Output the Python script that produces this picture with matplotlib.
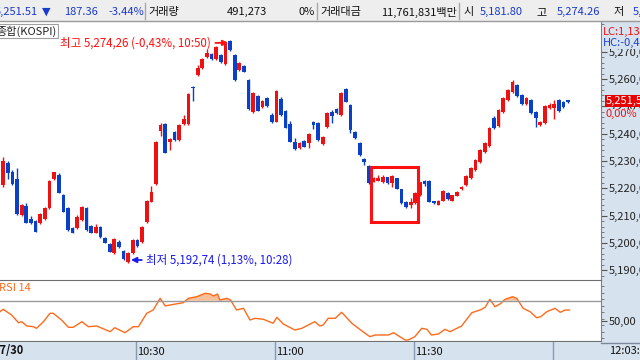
import numpy as np
import matplotlib
matplotlib.use("Agg")
from matplotlib import pyplot as plt
from matplotlib.patches import Rectangle
from matplotlib.lines import Line2D
from matplotlib.ticker import MultipleLocator, FuncFormatter

plt.rcParams['font.family'] = ['Noto Sans CJK KR', 'DejaVu Sans']

# 1분봉, 10:01 ~ 12:03 (10:00 기준 분)
minutes = np.arange(1, 124)
opens = [5221.2, 5229.4, 5226.1, 5223.3, 5210.2, 5213.6, 5208.7, 5208.0, 5207.4, 5208.7,
         5212.9, 5223.3, 5224.9, 5217.5, 5212.7, 5205.4, 5205.4, 5208.4, 5212.7, 5206.2,
         5203.7, 5205.7, 5201.7, 5199.6, 5196.2, 5200.4, 5197.0, 5193.1, 5196.2, 5201.1,
         5200.5, 5207.6, 5215.1, 5221.6, 5241.0, 5243.4, 5236.8, 5240.7, 5237.7, 5243.6,
         5243.4, 5257.2, 5261.5, 5263.9, 5268.0, 5269.2, 5267.2, 5268.8, 5265.5, 5273.9,
         5268.8, 5263.3, 5264.8, 5259.7, 5247.9, 5253.8, 5249.9, 5253.0, 5246.8, 5244.4,
         5252.6, 5248.3, 5243.4, 5236.8, 5234.6, 5237.4, 5236.5, 5244.4, 5243.8, 5236.2,
         5242.3, 5248.1, 5248.9, 5246.8, 5256.3, 5250.5, 5240.7, 5236.7, 5230.6, 5228.2,
         5222.4, 5222.8, 5222.2, 5224.0, 5221.8, 5223.7, 5219.6, 5215.1, 5213.9, 5214.5,
         5217.6, 5222.8, 5222.8, 5215.3, 5213.9, 5215.5, 5218.4, 5215.4, 5217.2, 5219.6,
         5221.2, 5223.8, 5226.7, 5229.6, 5233.3, 5235.5, 5245.8, 5242.8, 5247.9, 5252.3,
         5255.3, 5257.8, 5254.2, 5250.9, 5252.3, 5247.9, 5243.2, 5243.9, 5249.4, 5249.4,
         5252.3, 5251.6, 5252.2]
highs = [5231.5, 5230.0, 5226.7, 5227.5, 5214.3, 5214.6, 5209.9, 5208.4, 5211.0, 5213.1,
         5223.2, 5226.1, 5225.6, 5217.9, 5213.1, 5205.8, 5210.2, 5213.5, 5213.1, 5206.6,
         5206.9, 5206.2, 5202.2, 5199.9, 5201.8, 5201.1, 5197.4, 5196.7, 5201.4, 5201.4,
         5206.2, 5215.7, 5220.8, 5237.3, 5244.0, 5243.9, 5238.4, 5241.0, 5243.6, 5246.8,
         5254.9, 5257.5, 5265.2, 5267.7, 5271.0, 5269.6, 5272.1, 5269.2, 5273.9, 5274.26,
         5269.2, 5266.3, 5265.2, 5260.0, 5255.3, 5254.2, 5252.3, 5253.4, 5247.6, 5256.0,
         5253.4, 5248.7, 5244.6, 5238.4, 5237.0, 5237.7, 5240.3, 5244.6, 5244.3, 5239.2,
         5248.0, 5248.7, 5249.4, 5255.3, 5256.7, 5250.9, 5241.0, 5237.0, 5231.2, 5228.5,
         5224.3, 5224.9, 5224.9, 5224.1, 5224.7, 5223.8, 5219.7, 5215.3, 5216.3, 5218.6,
         5222.4, 5223.0, 5223.0, 5215.5, 5215.7, 5219.2, 5218.6, 5217.7, 5219.0, 5220.8,
         5224.9, 5227.8, 5230.8, 5234.5, 5237.0, 5242.5, 5246.5, 5249.1, 5253.5, 5256.4,
         5259.7, 5258.2, 5254.6, 5253.5, 5252.7, 5248.3, 5244.8, 5250.5, 5251.2, 5252.3,
         5252.7, 5252.0, 5252.5]
lows = [5220.5, 5223.4, 5221.2, 5210.2, 5209.9, 5207.3, 5207.1, 5204.0, 5207.1, 5208.4,
        5212.4, 5223.0, 5218.3, 5211.3, 5204.4, 5203.6, 5205.1, 5208.0, 5204.4, 5203.6,
        5203.6, 5201.8, 5200.0, 5196.7, 5195.9, 5198.1, 5193.9, 5192.74, 5195.9, 5198.5,
        5200.0, 5207.3, 5215.0, 5221.2, 5239.2, 5232.9, 5234.0, 5237.3, 5237.3, 5243.2,
        5243.2, 5252.1, 5261.1, 5263.7, 5267.7, 5267.0, 5267.0, 5265.9, 5265.2, 5270.3,
        5259.3, 5263.0, 5262.6, 5248.7, 5247.6, 5248.3, 5249.4, 5249.8, 5243.9, 5244.1,
        5246.5, 5242.1, 5237.0, 5234.0, 5234.4, 5235.1, 5234.9, 5241.7, 5237.3, 5236.0,
        5242.1, 5244.0, 5247.2, 5246.5, 5251.6, 5240.2, 5238.1, 5232.0, 5228.5, 5221.6,
        5222.3, 5222.7, 5222.0, 5221.6, 5220.6, 5219.6, 5214.2, 5212.8, 5212.7, 5214.2,
        5217.2, 5220.8, 5215.0, 5214.2, 5213.7, 5215.4, 5215.7, 5215.2, 5217.0, 5219.5,
        5220.8, 5223.4, 5226.3, 5229.2, 5232.9, 5235.1, 5241.8, 5242.4, 5247.5, 5251.9,
        5254.9, 5253.4, 5250.5, 5250.5, 5247.2, 5242.5, 5242.9, 5243.5, 5249.0, 5245.4,
        5248.0, 5249.4, 5251.3]
closes = [5230.1, 5225.5, 5221.5, 5210.6, 5213.8, 5207.4, 5207.4, 5204.1, 5210.6, 5212.7,
          5222.8, 5225.9, 5218.4, 5211.4, 5204.7, 5203.7, 5209.6, 5213.0, 5204.7, 5203.7,
          5205.9, 5202.0, 5200.1, 5196.8, 5201.4, 5198.4, 5194.1, 5196.2, 5201.1, 5198.9,
          5205.7, 5215.5, 5218.8, 5237.1, 5243.2, 5233.0, 5238.1, 5237.7, 5243.2, 5245.3,
          5254.6, 5256.7, 5264.2, 5267.2, 5269.4, 5267.2, 5271.6, 5266.2, 5273.7, 5270.7,
          5259.7, 5265.8, 5262.7, 5249.0, 5255.0, 5248.4, 5252.0, 5250.2, 5244.1, 5255.6,
          5246.8, 5242.2, 5237.1, 5234.4, 5236.7, 5235.2, 5239.9, 5243.2, 5237.7, 5238.9,
          5247.7, 5246.5, 5247.5, 5255.0, 5251.7, 5241.4, 5238.3, 5232.2, 5229.7, 5221.8,
          5223.7, 5223.9, 5224.3, 5221.8, 5224.5, 5219.7, 5214.5, 5213.0, 5215.1, 5218.4,
          5222.2, 5221.6, 5215.1, 5214.5, 5215.5, 5219.0, 5216.0, 5217.5, 5218.8, 5220.6,
          5224.5, 5227.4, 5230.4, 5234.1, 5236.6, 5242.1, 5242.1, 5248.7, 5253.1, 5256.0,
          5258.9, 5253.8, 5250.9, 5253.1, 5247.6, 5245.7, 5244.4, 5250.1, 5250.5, 5250.9,
          5248.4, 5249.8, 5251.51]

# RSI 14
rsi_t = [0.3, 1.0, 2.8, 4.3, 5.0, 6.1, 7.5, 8.2, 9.7, 11.1, 11.8, 13.6, 15.1, 16.1, 18.0,
         19.4, 21.2, 24.1, 25.1, 27.3, 29.1, 30.2, 32.0, 33.4, 34.9, 36.0, 37.0, 39.9, 41.0,
         42.8, 44.6, 45.7, 46.4, 47.3, 47.8, 49.3, 50.1, 51.4, 52.9, 54.3, 55.4, 57.2, 59.3,
         60.1, 61.5, 64.0, 65.5, 68.3, 69.4, 70.1, 71.2, 72.7, 74.1, 76.3, 78.4, 80.2, 81.3,
         84.2, 85.3, 87.8, 88.5, 89.9, 91.4, 92.5, 93.5, 95.0, 96.4, 97.5, 100.0, 102.2,
         104.0, 105.1, 106.1, 107.2, 108.3, 109.4, 111.0, 111.9, 113.3, 114.8, 116.2, 117.1,
         118.4, 120.2, 121.3, 122.4, 123.3]
rsi_v = [59.0, 61.4, 55.7, 48.0, 49.0, 44.7, 44.0, 42.4, 49.0, 57.4, 57.4, 50.7, 43.4, 43.4,
         49.0, 44.0, 44.7, 39.0, 43.0, 38.0, 44.0, 44.0, 57.4, 60.7, 72.4, 64.7, 65.7, 68.0,
         72.4, 74.0, 77.4, 76.7, 74.7, 76.7, 70.7, 72.4, 70.7, 60.7, 62.4, 50.7, 52.4, 51.4,
         47.4, 53.4, 46.7, 40.7, 42.4, 49.0, 44.7, 45.7, 52.4, 52.4, 58.4, 47.4, 40.0, 34.0,
         35.7, 35.7, 38.0, 30.7, 30.7, 34.0, 42.4, 41.4, 35.7, 36.7, 41.4, 39.0, 44.7, 58.0,
         60.7, 63.4, 71.4, 64.0, 66.7, 71.4, 74.0, 72.4, 62.4, 59.0, 53.0, 54.0, 59.0, 62.4,
         58.4, 60.7, 60.7]

time_marks = [30, 60, 90, 120]
time_labels = ['10:30', '11:00', '11:30', '']

RED = '#ee1111'
BLUE = '#0a40c8'
PANEL = '#d7e2ef'
W, H = 640, 360


def box(x0, y0, x1, y1):
    return [x0 / W, 1 - y1 / H, (x1 - x0) / W, (y1 - y0) / H]


def comma(v, nd=2):
    return f"{v:,.{nd}f}".replace('.', ',')


fig = plt.figure(figsize=(6.4, 3.6), dpi=100)
fig.patch.set_facecolor('white')

# backgrounds
fig.patches.append(Rectangle((601 / W, 0), 39 / W, 1 - 21 / H, transform=fig.transFigure,
                             facecolor=PANEL, edgecolor='none', zorder=-2))
fig.patches.append(Rectangle((0, 1 - 21 / H), 1, 21 / H, transform=fig.transFigure,
                             facecolor='#eeeeee', edgecolor='none', zorder=-2))
fig.add_artist(Line2D([0, 1], [1 - 20.5 / H] * 2, color='#9a9a9a', lw=1))
for sx in [145, 317, 459]:
    fig.add_artist(Line2D([sx / W] * 2, [1 - 3 / H, 1 - 19 / H], color='#a8a8a8', lw=1))

# price panel
o = np.array(opens); h = np.array(highs); l = np.array(lows); c = np.array(closes)
up = c >= o
col = np.where(up, RED, BLUE)

ax = fig.add_axes(box(0, 22, 601, 280))
ax.set_xlim(0.31, 130.11)
ax.set_ylim(5186.41, 5280.91)
ax.vlines(minutes, l, h, colors=col, lw=1)
ax.bar(minutes, np.maximum(np.abs(c - o), 0.35), bottom=np.minimum(o, c),
       width=0.8, color=col, linewidth=0)
for s in ['top', 'left', 'bottom']:
    ax.spines[s].set_visible(False)
ax.spines['right'].set_color('#808080')
ax.yaxis.tick_right()
ax.set_yticks(np.arange(5190, 5271, 10))
ax.yaxis.set_minor_locator(MultipleLocator(2))
ax.yaxis.set_major_formatter(FuncFormatter(lambda v, p: comma(v)))
ax.tick_params(axis='y', which='major', length=4, width=0.8, color='#555555',
               pad=1.5, labelsize=8, labelcolor='#222222')
ax.tick_params(axis='y', which='minor', length=2, width=0.6, color='#666666')
ax.tick_params(axis='x', bottom=False, labelbottom=False)

last = closes[-1]
hi_i = int(np.argmax(h)); lo_i = int(np.argmin(l))
hi_t = f"{10 + minutes[hi_i] // 60}:{minutes[hi_i] % 60:02d}"
lo_t = f"{10 + minutes[lo_i] // 60}:{minutes[lo_i] % 60:02d}"
hi_pct = (last / h[hi_i] - 1) * 100
lo_pct = (last / l[lo_i] - 1) * 100

ax.annotate(f"최고 {comma(h[hi_i])} ({comma(hi_pct)}%, {hi_t})",
            xy=(minutes[hi_i] - 0.4, h[hi_i] - 1.0), xytext=(-17, 0),
            textcoords='offset pixels', ha='right', va='center', fontsize=8.3, color='#ff1010',
            arrowprops=dict(arrowstyle='-|>', color='#ff1010', lw=1.3, mutation_scale=8,
                            shrinkA=1, shrinkB=0))
ax.annotate(f"최저 {comma(l[lo_i])} ({comma(lo_pct)}%, {lo_t})",
            xy=(minutes[lo_i] + 0.6, l[lo_i] + 1.0), xytext=(15, 0),
            textcoords='offset pixels', ha='left', va='center', fontsize=8.3, color='#1a1aee',
            arrowprops=dict(arrowstyle='-|>', color='#1a1aee', lw=1.3, mutation_scale=8,
                            shrinkA=1, shrinkB=0))

ax.add_patch(Rectangle((80.37, 5207.8), 10.15, 19.9, fill=False, edgecolor='#ff1010', lw=2.2))

# current price tag
ax.annotate(comma(last), xy=(1.0, last), xycoords=('axes fraction', 'data'),
            xytext=(5, 1), textcoords='offset pixels', va='center', ha='left',
            fontsize=8, color='white', annotation_clip=False,
            bbox=dict(facecolor='#e80000', edgecolor='none', pad=0.8))
ax.annotate('0,00%', xy=(1.0, last), xycoords=('axes fraction', 'data'),
            xytext=(5, -12), textcoords='offset pixels', va='center', ha='left',
            fontsize=8, color='#ee1111', annotation_clip=False,
            bbox=dict(facecolor=PANEL, edgecolor='none', pad=0.3))

fig.text(603 / W, 1 - 32 / H, f"LC:{comma(lo_pct)}%", color='#ee1111', fontsize=8, va='center',
         bbox=dict(facecolor=PANEL, edgecolor='none', pad=0.5))
fig.text(603 / W, 1 - 43 / H, f"HC:{comma(hi_pct)}%", color='#1a40d0', fontsize=8, va='center',
         bbox=dict(facecolor=PANEL, edgecolor='none', pad=0.5))

fig.text(-4 / W, 1 - 31 / H, '종합(KOSPI)', fontsize=8, va='center', color='#222222',
         bbox=dict(facecolor='white', edgecolor='#a0a0a0', pad=1.2, lw=0.8))

# RSI panel
ar = fig.add_axes(box(0, 280, 601, 341))
ar.set_xlim(ax.get_xlim())
ar.set_ylim(29.7, 90.7)
rt = np.array(rsi_t); rv = np.array(rsi_v)
ar.fill_between(rt, rv, 70, where=rv > 70, interpolate=True, color='#f8bf98', lw=0)
ar.plot(rt, rv, color='#ff6a1a', lw=1)
ar.axhline(70, color='#9a9a9a', lw=1)
ar.spines['left'].set_visible(False)
for s in ['top', 'bottom']:
    ar.spines[s].set_color('#6e6e6e')
ar.spines['right'].set_color('#808080')
ar.yaxis.tick_right()
ar.set_yticks([50])
ar.yaxis.set_minor_locator(MultipleLocator(6.5))
ar.yaxis.set_major_formatter(FuncFormatter(lambda v, p: comma(v)))
ar.tick_params(axis='y', which='major', length=4, width=0.8, color='#555555',
               pad=1.5, labelsize=8, labelcolor='#222222')
ar.tick_params(axis='y', which='minor', length=2, width=0.6, color='#666666')
ar.tick_params(axis='x', bottom=False, labelbottom=False)
fig.text(-1 / W, 1 - 288 / H, 'RSI 14', color='#ff6a1a', fontsize=8, va='center')

# time axis band
at = fig.add_axes(box(0, 342, 601, 360))
at.set_facecolor(PANEL)
at.set_xlim(ax.get_xlim())
at.set_ylim(0, 1)
at.set_xticks([])
at.set_yticks([])
for s in at.spines.values():
    s.set_visible(False)
for tm, tl in zip(time_marks, time_labels):
    at.axvline(tm - 0.3, color='#8a9ab0', lw=1)
    at.text(tm - 0.05, 0.45, tl, fontsize=8, va='center', ha='left', color='#111111')
fig.text(-6 / W, 1 - 351 / H, '07/30', fontsize=8, va='center', color='#111111', weight='bold')
fig.add_artist(Line2D([601 / W, 1], [1 - 343 / H] * 2, color='#7a8898', lw=1))
fig.text(609 / W, 1 - 351 / H, '12:03:', fontsize=8, va='center', color='#111111')

# header
hy = 1 - 12 / H
fig.text(38 / W, hy, '5,251.51', color='#1a3acc', fontsize=8, va='center', ha='right')
fig.text(42 / W, hy, '▼', color='#1a3acc', fontsize=8, va='center',
         family=['DejaVu Sans'])
fig.text(64 / W, hy, '187.36', color='#1a3acc', fontsize=8, va='center')
fig.text(108 / W, hy, '-3.44%', color='#1a3acc', fontsize=8, va='center')
fig.text(148 / W, hy, '거래량', color='#111111', fontsize=8, va='center')
fig.text(267 / W, hy, '491,273', color='#111111', fontsize=8, va='center', ha='right')
fig.text(315 / W, hy, '0%', color='#111111', fontsize=8, va='center', ha='right')
fig.text(320 / W, hy, '거래대금', color='#111111', fontsize=8, va='center')
fig.text(457 / W, hy, '11,761,831백만', color='#111111', fontsize=8, va='center', ha='right')
fig.text(463 / W, hy, '시', color='#111111', fontsize=8, va='center')
fig.text(480 / W, hy, '5,181.80', color='#1a3acc', fontsize=8, va='center')
fig.text(536 / W, hy, '고', color='#111111', fontsize=8, va='center')
fig.text(557 / W, hy, '5,274.26', color='#1a3acc', fontsize=8, va='center')
fig.text(613 / W, hy, '저', color='#111111', fontsize=8, va='center')
fig.text(633 / W, hy, '5,192.74', color='#1a3acc', fontsize=8, va='center')

fig.savefig('out.png', dpi=100)
